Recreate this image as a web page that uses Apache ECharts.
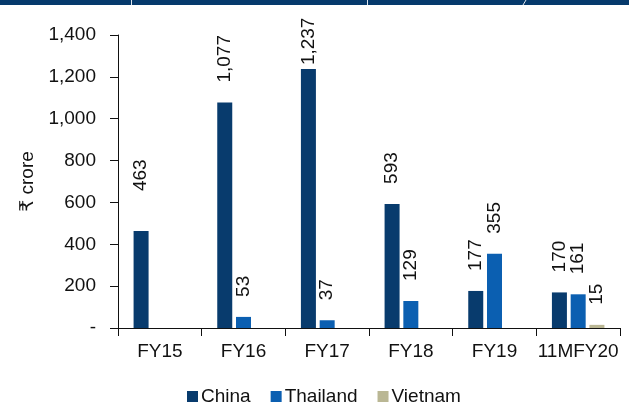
<!DOCTYPE html>
<html>
<head>
<meta charset="utf-8">
<title>China / Thailand / Vietnam</title>
<script src="https://cdn.jsdelivr.net/npm/echarts@6/dist/echarts.min.js"></script>
<style>
    html,body{margin:0;padding:0;background:#fff;}
    #chartBox{width:629px;height:411px;}
</style>
</head>
<body>
<div id="chartBox"></div>
<script>
// 数据
var categories = ['FY15', 'FY16', 'FY17', 'FY18', 'FY19', '11MFY20'];
var seriesNames = ['China', 'Thailand', 'Vietnam'];
var chinaValues = [463, 1077, 1237, 593, 177, 170];
var thailandValues = [null, 53, 37, 129, 355, 161];
var vietnamValues = [null, null, null, null, null, 15];
var yTicks = [0, 200, 400, 600, 800, 1000, 1200, 1400];

var fontName = '"Liberation Sans", Arial, "DejaVu Sans", sans-serif';
var colors = ['#083b6d', '#0b5fb1', '#bab794'];

// label gap tweaks where the source moved a label (series -> category -> px)
var labelGapFix = { China: { FY15: 40, FY17: 4 } };

function fmt(v) {
    return v === 0 ? '-' : Number(v).toLocaleString('en-US');
}

function makeSeries(name, values, color) {
    var fix = labelGapFix[name] || {};
    return {
        name: name,
        type: 'bar',
        barWidth: 15,
        barGap: '25%',
        itemStyle: { color: color },
        label: {
            show: true,
            position: 'top',
            distance: 20,
            rotate: 90,
            align: 'left',
            verticalAlign: 'middle',
            color: '#111',
            fontFamily: fontName,
            fontSize: 19,
            formatter: function (p) { return fmt(p.value); }
        },
        data: values.map(function (v, i) {
            if (fix[categories[i]] != null) {
                return { value: v, label: { distance: fix[categories[i]] } };
            }
            return v;
        })
    };
}

var chart = echarts.init(document.getElementById('chartBox'));
var option = {
    backgroundColor: '#fff',
    animation: false,
    grid: { left: 118, right: 9, top: 35, bottom: 83 },
    legend: {
        data: seriesNames,
        bottom: 0,
        left: 182,
        itemWidth: 11,
        itemHeight: 11,
        itemGap: 20,
        icon: 'rect',
        textStyle: { fontFamily: fontName, fontSize: 19, color: '#111', padding: [0, 0, 0, -2] }
    },
    xAxis: {
        type: 'category',
        data: categories,
        axisLine: { lineStyle: { color: '#111', width: 1 } },
        axisTick: { show: true, length: 8, lineStyle: { color: '#111' } },
        axisLabel: { interval: 0, margin: 14, color: '#111', fontFamily: fontName, fontSize: 19 }
    },
    yAxis: {
        type: 'value',
        min: yTicks[0],
        max: yTicks[yTicks.length - 1],
        interval: yTicks[1] - yTicks[0],
        name: '₹ crore',
        nameLocation: 'middle',
        nameGap: 74,
        nameTextStyle: { fontFamily: fontName, fontSize: 19, color: '#111' },
        splitLine: { show: false },
        axisLine: { show: true, lineStyle: { color: '#111' } },
        axisTick: { show: true, length: 8, lineStyle: { color: '#111' } },
        axisLabel: {
            margin: 22,
            color: '#111',
            fontFamily: fontName,
            fontSize: 19,
            formatter: fmt
        }
    },
    graphic: [
        // cropped header strip at the very top
        { type: 'rect', left: 0, top: 0, shape: { width: 629, height: 5 }, style: { fill: '#063a6c' }, silent: true },
        { type: 'rect', left: 131, top: 0, shape: { width: 1, height: 5 }, style: { fill: '#dfe6ee' }, silent: true },
        { type: 'rect', left: 367, top: 0, shape: { width: 1, height: 5 }, style: { fill: '#dfe6ee' }, silent: true },
        { type: 'line', shape: { x1: 526, y1: 0, x2: 523, y2: 5 }, style: { stroke: '#dfe6ee', lineWidth: 1 }, silent: true }
    ],
    series: [
        makeSeries(seriesNames[0], chinaValues, colors[0]),
        makeSeries(seriesNames[1], thailandValues, colors[1]),
        makeSeries(seriesNames[2], vietnamValues, colors[2])
    ]
};
chart.setOption(option);
</script>
</body>
</html>
